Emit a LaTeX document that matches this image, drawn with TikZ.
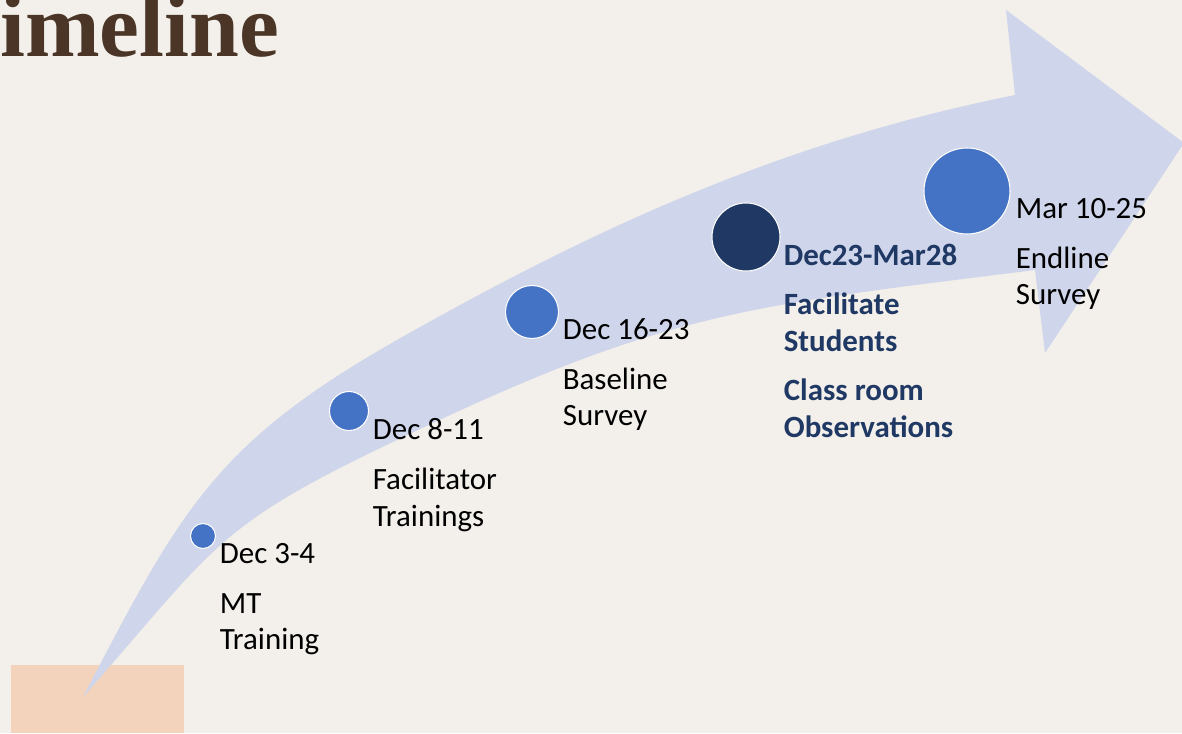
\documentclass[tikz,border=0pt]{standalone}
\usepackage{fontspec}
\setmainfont{Carlito}
\newfontfamily\titlefont{Liberation Serif}
\usepackage{tikz}
\usetikzlibrary{positioning}

\definecolor{pagebg}{HTML}{F3F0EB}
\definecolor{arrowfill}{HTML}{CFD5EA}
\definecolor{dotblue}{HTML}{4472C4}
\definecolor{dotnavy}{HTML}{1F3864}
\definecolor{titlebrown}{HTML}{4A3527}
\definecolor{peach}{HTML}{F3D3BC}

\begin{document}
\begin{tikzpicture}[x=1cm,y=1cm,line width=.35pt,
  dot/.style={circle,fill=dotblue,draw=white,line width=.6pt,inner sep=0pt},
  lbl/.style={anchor=north west,align=left,inner sep=0pt,
    font=\fontsize{17.6}{20.8}\selectfont}]
\useasboundingbox (0,0) rectangle (23.64,14.66);
\fill[pagebg] (0,0) rectangle (23.64,14.66);
% title, cut at the left border
\node[anchor=base west,inner sep=0pt,text=titlebrown,
  font=\titlefont\fontsize{51}{51}\selectfont\bfseries] (title) at (0,13.52) {imeline};
\fill[peach] (0.22,0) rectangle (3.68,1.36);
% the bent arrow
\fill[arrowfill] (1.66,0.72) .. controls (3.60,4.44) and (4.28,5.78) .. (7.94,7.86)
  .. controls (12.00,10.16) and (15.72,11.84) .. (20.30,12.76)
  -- (20.12,14.46) -- (23.68,11.80) -- (20.90,7.60) -- (20.70,9.26)
  .. controls (14.80,8.52) and (13.28,8.42) .. (7.94,5.86)
  .. controls (4.28,4.12) and (4.34,3.76) .. (1.66,0.72) -- cycle;
% milestones
\node[dot,minimum size=0.50cm] (c1) at (4.06,3.94) {};
\node[dot,minimum size=0.78cm] (c2) at (6.98,6.44) {};
\node[dot,minimum size=1.06cm] (c3) at (10.64,8.42) {};
\node[dot,fill=dotnavy,minimum size=1.36cm] (c4) at (14.92,9.92) {};
\node[dot,minimum size=1.72cm] (c5) at (19.34,10.84) {};
\node[lbl] (l1) at ([shift={(0.07,-0.15)}]c1.east) {Dec 3-4\\[7.4pt]MT\\Training};
\node[lbl] (l2) at ([shift={(0.07,-0.15)}]c2.east) {Dec 8-11\\[7.4pt]Facilitator\\Trainings};
\node[lbl] (l3) at ([shift={(0.07,-0.13)}]c3.east) {Dec 16-23\\[7.4pt]Baseline\\Survey};
\node[lbl,text=dotnavy,font=\fontsize{17.6}{20.8}\selectfont\bfseries] (l4)
  at ([shift={(0.06,-0.13)}]c4.east) {Dec23-Mar28\\[7.4pt]Facilitate\\Students\\[7.4pt]Class room\\Observations};
\node[lbl] (l5) at ([shift={(0.10,-0.15)}]c5.east) {Mar 10-25\\[7.4pt]Endline\\Survey};
\end{tikzpicture}
\end{document}
